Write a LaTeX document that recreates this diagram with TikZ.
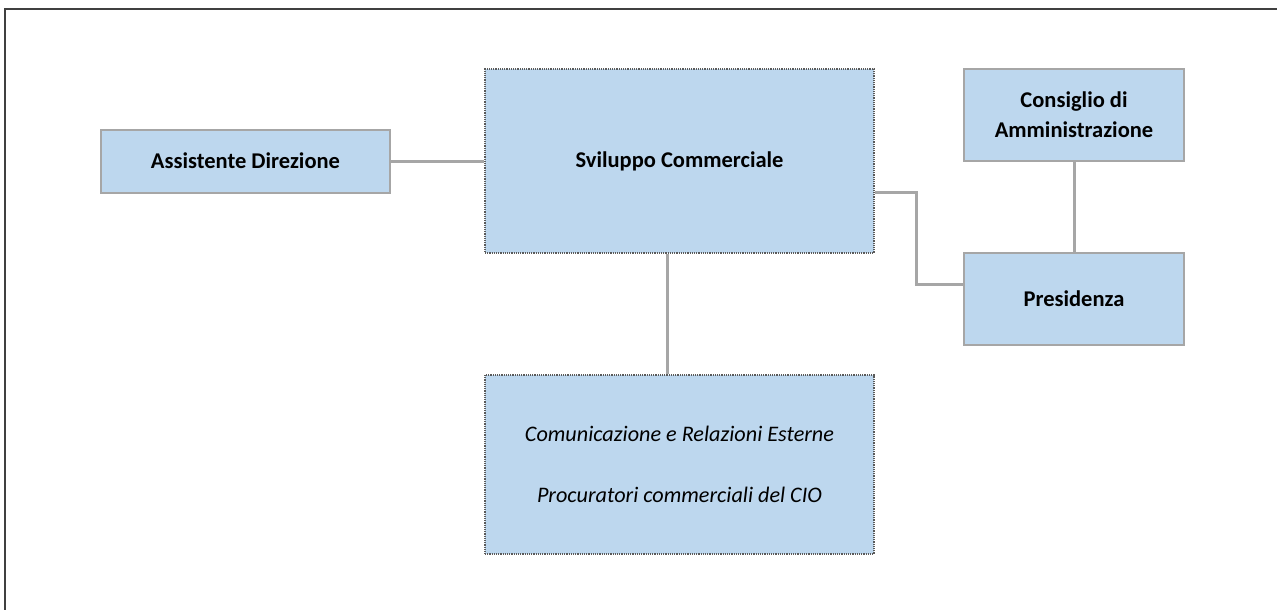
\documentclass[tikz,border=0pt]{standalone}
\usepackage{fontspec}
\setmainfont{Carlito}
\definecolor{boxfill}{RGB}{189,215,238}
\definecolor{boxline}{RGB}{166,166,166}
\definecolor{dotline}{RGB}{90,90,90}
\definecolor{linkgray}{RGB}{166,166,166}
\begin{document}
\begin{tikzpicture}[x=1pt,y=-1pt,
  solidbox/.style={draw=boxline,line width=2pt,fill=boxfill,inner sep=0pt,
    font=\fontsize{22.5}{30}\selectfont\bfseries,align=center},
  dotbox/.style={draw=dotline,line width=1.2pt,densely dotted,fill=boxfill,inner sep=0pt,align=center},
  link/.style={draw=linkgray,line width=3pt}]
\useasboundingbox (0,0) rectangle (1277,610);
\draw[line width=2.5pt,color=black!75] (5,610) -- (5,9) -- (1277,9);

\node[solidbox,minimum width=289pt,minimum height=63pt] (ad) at (245.5,161) {Assistente Direzione};
\node[dotbox,minimum width=389pt,minimum height=184pt,
  font=\fontsize{22.5}{30}\selectfont\bfseries] (sc) at (679.5,161) {Sviluppo Commerciale};
\node[dotbox,minimum width=389pt,minimum height=179pt,
  font=\fontsize{22.2}{61}\selectfont\itshape] (cr) at (679.5,464.5)
  {Comunicazione e Relazioni Esterne\\Procuratori commerciali del CIO};
\node[solidbox,minimum width=220pt,minimum height=92pt] (cda) at (1074,115)
  {Consiglio di\\Amministrazione};
\node[solidbox,minimum width=220pt,minimum height=92pt] (pr) at (1074,299) {Presidenza};

\coordinate (k1) at (916,192);
\coordinate (k2) at (916,284);
\draw[link] (ad.east) -- (sc.west);
\draw[link] (sc.east |- k1) -- (k1) -- (k2) -- (pr.west |- k2);
\draw[link] (cda.south) -- (pr.north);
\draw[link] (sc.south -| 667,0) -- (cr.north -| 667,0);
\end{tikzpicture}
\end{document}
